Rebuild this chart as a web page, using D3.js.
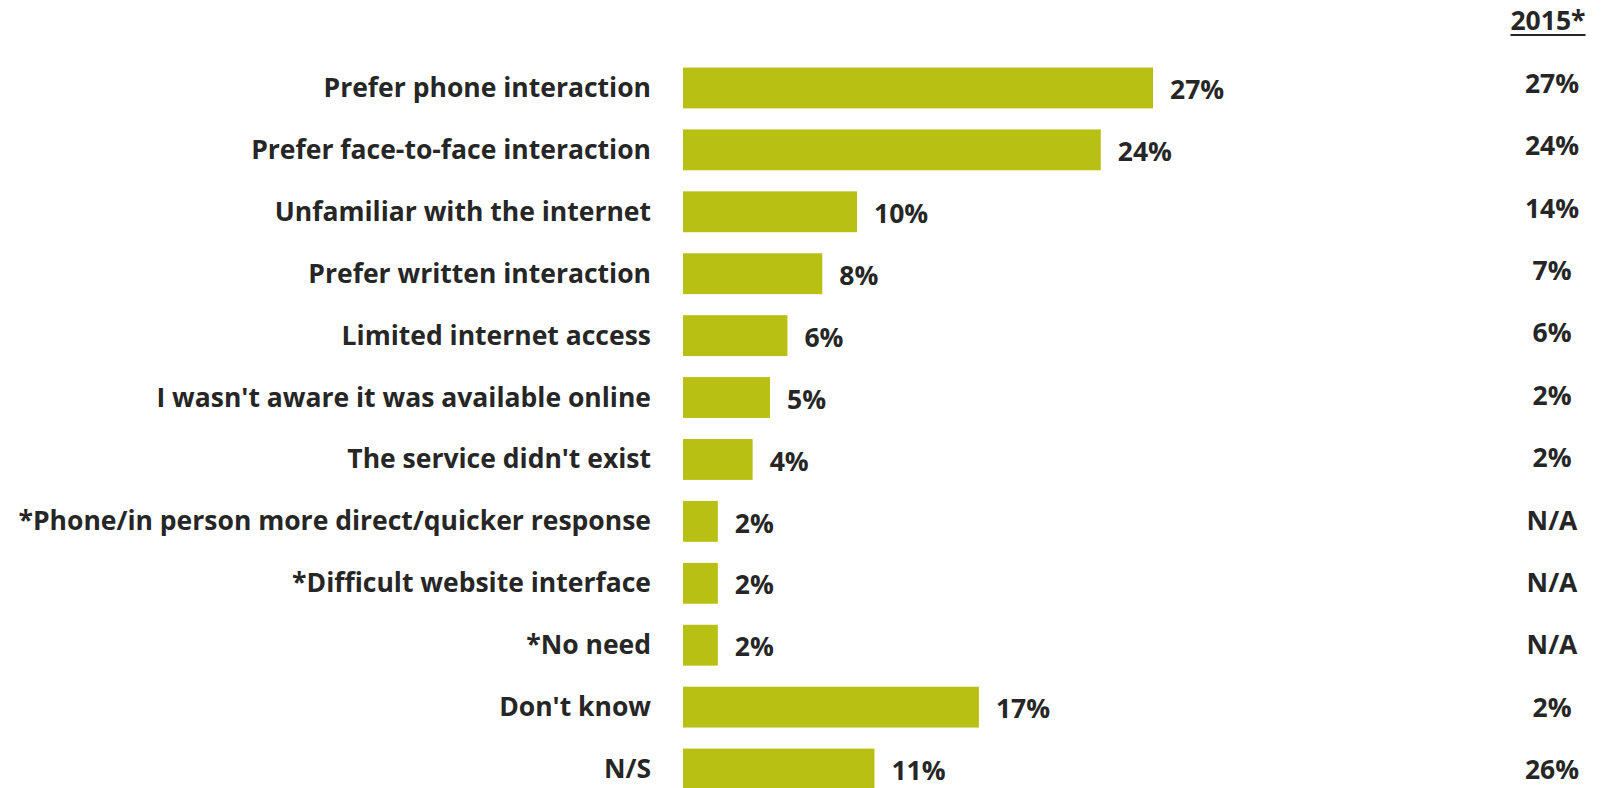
<!DOCTYPE html>
<html>
<head>
<meta charset="utf-8">
<script src="https://cdn.jsdelivr.net/npm/d3@7"></script>
<style>
  html, body { margin: 0; padding: 0; background: #fff; }
  svg { display: block; }
  text { font-family: "Open Sans", Lato, sans-serif; font-weight: 700; fill: #262626; }
</style>
</head>
<body>
<svg id="chart" width="1606" height="788"></svg>
<script>
// Reasons for not using the online service
const categories = [
  "Prefer phone interaction",
  "Prefer face-to-face interaction",
  "Unfamiliar with the internet",
  "Prefer written interaction",
  "Limited internet access",
  "I wasn't aware it was available online",
  "The service didn't exist",
  "*Phone/in person more direct/quicker response",
  "*Difficult website interface",
  "*No need",
  "Don't know",
  "N/S"
];
// Current survey shares (%)
const values = [27, 24, 10, 8, 6, 5, 4, 2, 2, 2, 17, 11];
// Previous survey column
const header2015 = "2015*";
const values2015 = ["27%", "24%", "14%", "7%", "6%", "2%", "2%", "N/A", "N/A", "N/A", "2%", "26%"];

const svg = d3.select("#chart");

const x = d3.scaleLinear().domain([0, 27]).range([683, 1153]);
const y = d3.scaleBand().domain(categories).range([57, 800]).paddingInner(0.34).paddingOuter(0.17);
const yPrev = d3.scalePoint().domain(categories).range([84, 770]);

const barColor = "#b8c014";
const fontSize = 26.5;

// Bars
svg.append("g").selectAll("rect")
  .data(values)
  .join("rect")
  .attr("x", x(0))
  .attr("y", (d, i) => y(categories[i]))
  .attr("width", d => x(d) - x(0))
  .attr("height", y.bandwidth())
  .attr("fill", barColor);

// Category labels
svg.append("g").selectAll("text")
  .data(categories)
  .join("text")
  .attr("x", 651)
  .attr("y", d => y(d) + y.bandwidth() / 2)
  .attr("dy", "0.34em")
  .attr("text-anchor", "end")
  .attr("font-size", fontSize)
  .text(d => d);

// Value labels
svg.append("g").selectAll("text")
  .data(values)
  .join("text")
  .attr("x", d => x(d) + 17)
  .attr("y", (d, i) => y(categories[i]) + y.bandwidth() / 2)
  .attr("dy", "0.42em")
  .attr("font-size", fontSize)
  .text(d => d + "%");

// 2015 column header
const hdr = svg.append("text")
  .attr("x", 1548)
  .attr("y", 30)
  .attr("text-anchor", "middle")
  .attr("font-size", fontSize)
  .text(header2015);
const hb = hdr.node().getBBox();
svg.append("line")
  .attr("x1", hb.x).attr("x2", hb.x + hb.width)
  .attr("y1", 35).attr("y2", 35)
  .attr("stroke", "#262626").attr("stroke-width", 2);

// 2015 values
svg.append("g").selectAll("text")
  .data(values2015)
  .join("text")
  .attr("x", 1552)
  .attr("y", (d, i) => yPrev(categories[i]))
  .attr("dy", "0.34em")
  .attr("text-anchor", "middle")
  .attr("font-size", fontSize)
  .text(d => d);
</script>
</body>
</html>
